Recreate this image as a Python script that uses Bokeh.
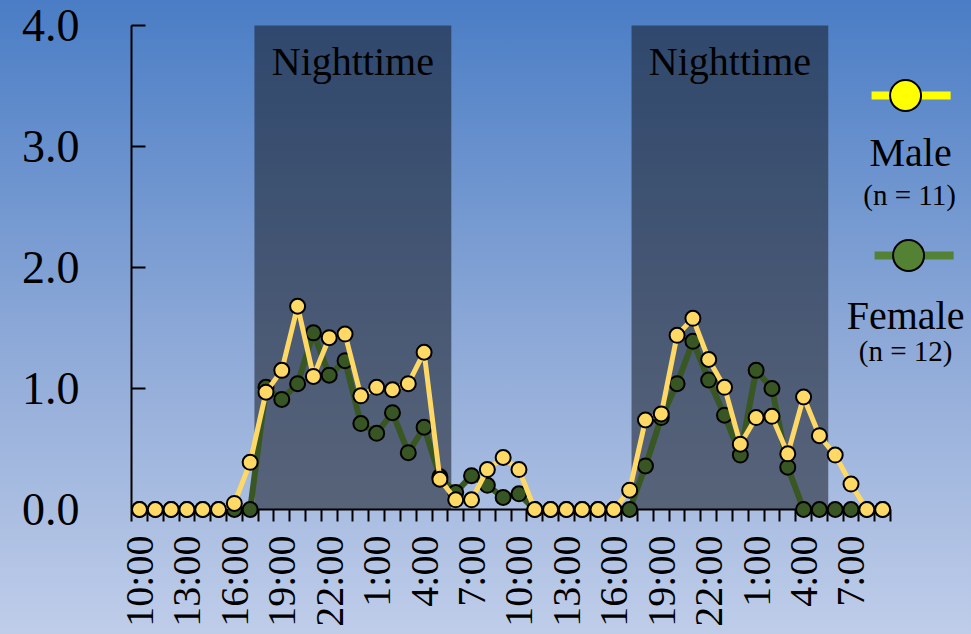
import math
from bokeh.plotting import figure
from bokeh.models import FixedTicker, Range1d, GlobalInlineStyleSheet
from bokeh.core.properties import value
from bokeh.embed import file_html
from bokeh.resources import INLINE

# ---------------- data ----------------
hour_index = list(range(48))  # hourly samples starting at 10:00
tick_positions = [0, 3, 6, 9, 12, 15, 18, 21, 24, 27, 30, 33, 36, 39, 42, 45]
tick_labels = ["10:00", "13:00", "16:00", "19:00", "22:00", "1:00", "4:00", "7:00",
               "10:00", "13:00", "16:00", "19:00", "22:00", "1:00", "4:00", "7:00"]
y_ticks = [0, 1, 2, 3, 4]
y_tick_labels = ["0.0", "1.0", "2.0", "3.0", "4.0"]

male = [0, 0, 0, 0, 0, 0, 0.05, 0.39, 0.97, 1.15, 1.68, 1.10, 1.42, 1.45, 0.94, 1.01,
        0.99, 1.04, 1.30, 0.25, 0.08, 0.08, 0.33, 0.43, 0.33, 0, 0, 0, 0, 0, 0, 0.16,
        0.74, 0.79, 1.44, 1.58, 1.24, 1.01, 0.54, 0.76, 0.77, 0.46, 0.93, 0.61, 0.45,
        0.21, 0, 0]
female = [0, 0, 0, 0, 0, 0, 0, 0, 1.01, 0.91, 1.04, 1.46, 1.11, 1.23, 0.71, 0.63,
          0.80, 0.47, 0.68, 0.27, 0.14, 0.28, 0.20, 0.10, 0.13, 0, 0, 0, 0, 0, 0, 0,
          0.36, 0.76, 1.04, 1.39, 1.07, 0.78, 0.45, 1.15, 1.00, 0.35, 0, 0, 0, 0, 0, 0]

night_start = [7.27, 31.12]
night_end = [19.72, 43.56]
night_labels = ["Nighttime", "Nighttime"]

legend_names = ["Male", "Female"]
legend_counts = ["(n = 11)", "(n = 12)"]

# ---------------- figure ----------------
# the frame covers the whole canvas; axes are pinned with fixed_location
p = figure(width=971, height=634, output_backend="svg", toolbar_location=None,
           x_range=Range1d(-8.79, 52.62), y_range=Range1d(-1.033, 4.207),
           min_border_left=0, min_border_right=0, min_border_top=0,
           min_border_bottom=0)
p.background_fill_color = None
p.border_fill_color = None
p.outline_line_color = None
p.grid.visible = False
p.stylesheets = [GlobalInlineStyleSheet(css=(
    "html{height:100%;background:linear-gradient(180deg,#4a7dc5 0%,#8faad8 55%,#bfcde9 100%) no-repeat;}"
    "body{background:transparent;}"))]

FONT = "Liberation Serif"

# nighttime shading
p.quad(left=night_start, right=night_end, bottom=0, top=4,
       fill_color="#181d28", fill_alpha=0.56, line_color=None, level="image")
night_mid = [(a + b) / 2 for a, b in zip(night_start, night_end)]
p.text(x=night_mid, y=[3.70] * 2, text=night_labels, text_font=value(FONT),
       text_font_size="40px", text_align="center", text_baseline="alphabetic",
       text_color="black")

# series
p.line(hour_index, female, line_color="#385723", line_width=6)
p.scatter(hour_index, female, size=15, fill_color="#375623", line_color="black",
          line_width=2)
p.line(hour_index, male, line_color="#FFD966", line_width=5)
p.scatter(hour_index, male, size=15, fill_color="#FFD966", line_color="black",
          line_width=2)

# custom legend (glyph above label)
p.line([46.30, 51.30], [3.421, 3.421], line_color="#FFFF00", line_width=8)
p.scatter([48.45], [3.421], size=31, fill_color="#FFFF00", line_color="black", line_width=2)
p.line([46.49, 51.49], [2.099, 2.099], line_color="#548235", line_width=8)
p.scatter([48.64], [2.099], size=31, fill_color="#548235", line_color="black", line_width=2)
p.text(x=[48.77, 48.45], y=[2.95, 1.60], text=legend_names, text_font=value(FONT),
       text_font_size="40px", text_align="center", text_baseline="alphabetic",
       text_color="black")
p.text(x=[48.70, 48.45], y=[2.60, 1.31], text=legend_counts, text_font=value(FONT),
       text_font_size="29px", text_align="center", text_baseline="alphabetic",
       text_color="black")

# x axis
xa = p.xaxis[0]
xa.fixed_location = 0
xa.bounds = (-0.5, 47.5)
xa.ticker = FixedTicker(ticks=tick_positions,
                        minor_ticks=[i - 0.5 for i in range(49)])
xa.major_label_overrides = {t: l for t, l in zip(tick_positions, tick_labels)}
xa.axis_line_color = "black"
xa.axis_line_width = 2
xa.major_tick_in = 0
xa.major_tick_out = 0
xa.minor_tick_in = 0
xa.minor_tick_out = 12
xa.minor_tick_line_color = "black"
xa.minor_tick_line_width = 2
xa.major_label_orientation = math.pi / 2
xa.major_label_standoff = 14
xa.major_label_text_font = FONT
xa.major_label_text_font_size = "40px"
xa.major_label_text_color = "black"
xa.level = "underlay"

# y axis
ya = p.yaxis[0]
ya.fixed_location = -0.5
ya.bounds = (0, 4)
ya.ticker = FixedTicker(ticks=y_ticks, minor_ticks=[])
ya.major_label_overrides = {t: l for t, l in zip(y_ticks, y_tick_labels)}
ya.axis_line_color = "black"
ya.axis_line_width = 2
ya.major_tick_in = 14
ya.major_tick_out = 0
ya.major_tick_line_color = "black"
ya.major_tick_line_width = 2
ya.minor_tick_line_color = None
ya.major_label_standoff = 52
ya.major_label_text_font = FONT
ya.major_label_text_font_size = "46px"
ya.major_label_text_color = "black"
ya.level = "underlay"

open("out.html", "w").write(file_html(p, INLINE))
